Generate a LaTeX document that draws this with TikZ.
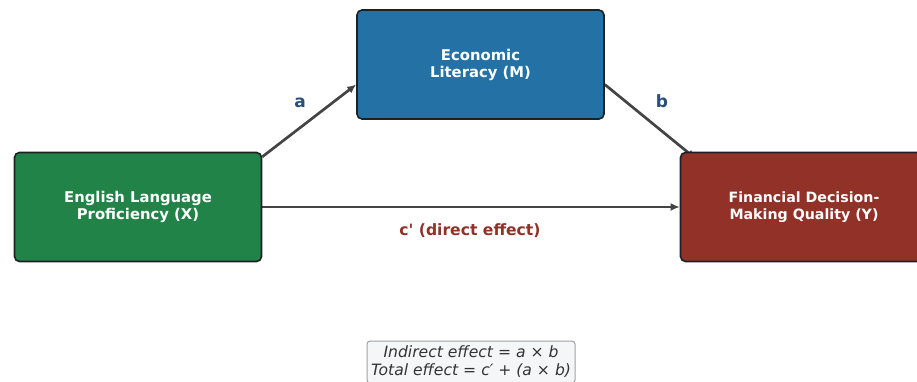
\documentclass[tikz,border=0pt]{standalone}
\usepackage{fontspec}
\setmainfont{DejaVu Sans}[Ligatures=TeXOff]
\usetikzlibrary{arrows.meta,backgrounds,calc}
\definecolor{boxgreen}{RGB}{33,131,71}
\definecolor{boxblue}{RGB}{36,114,165}
\definecolor{boxred}{RGB}{145,49,40}
\definecolor{boxedge}{RGB}{30,33,36}
\definecolor{arrowgray}{RGB}{68,68,68}
\definecolor{pathblue}{RGB}{42,78,122}
\definecolor{notefill}{RGB}{245,246,248}
\definecolor{noteedge}{RGB}{160,160,160}
\begin{document}
\begin{tikzpicture}[x=1pt,y=-1pt,
  box/.style={draw=boxedge,line width=1.6pt,rounded corners=5pt,
    minimum width=247pt,minimum height=109pt,inner sep=0pt,
    text=white,align=center,font=\bfseries\fontsize{14.8}{17}\selectfont},
  link/.style={draw=arrowgray,line width=2.7pt,-{Latex[length=9pt,width=8pt]}},
  pathlabel/.style={anchor=base,font=\bfseries\fontsize{17}{20}\selectfont,text=pathblue}]
  \useasboundingbox (0,0) rectangle (917,381);
  % variables
  \node[box,fill=boxgreen] (x) at (138,207) {English Language\\Proficiency (X)};
  \node[box,fill=boxblue] (m) at (480.5,64.5) {Economic\\Literacy (M)};
  \node[box,fill=boxred,font=\bfseries\fontsize{14.2}{16.5}\selectfont] (y) at (804,207) {Financial Decision-\\Making Quality (Y)};
  % connectors behind the boxes
  \begin{scope}[on background layer]
    \draw[link] (x.22) -- ($(m.west)+(0,20)$);
    \draw[link] ($(m.east)+(0,20)$) -- ($(y.north west)+(16,7)$);
    \draw[link] (x.east) -- (y.west);
  \end{scope}
  \node[pathlabel] (la) at (300,107) {a};
  \node[pathlabel] (lb) at (662,107) {b};
  \node[font=\bfseries\fontsize{15.6}{18}\selectfont,text=boxred] (lc) at (470,231) {c' (direct effect)};
  % summary
  \node[draw=noteedge,fill=notefill,line width=1pt,rounded corners=3pt,
    minimum width=208pt,minimum height=42pt,inner sep=0pt,align=center,
    text=black!80,font=\itshape\fontsize{15.6}{18}\selectfont] (note) at (471,362)
    {Indirect effect = a × b\\Total effect = c′ + (a × b)};
\end{tikzpicture}
\end{document}
